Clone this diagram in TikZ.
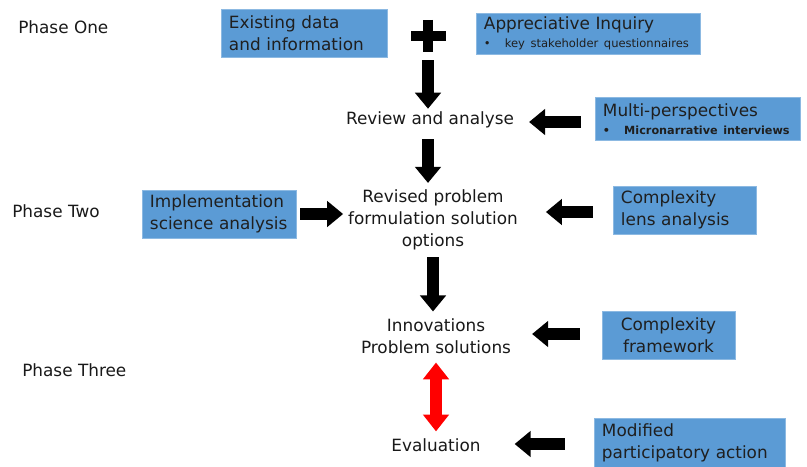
\documentclass[tikz,border=0pt]{standalone}
\usepackage{fontspec}
\setmainfont{DejaVu Sans}
\usetikzlibrary{arrows.meta}
\definecolor{cajaazul}{HTML}{5B9BD5}
\newcommand{\balafont}{\fontsize{8.2}{9.5}\selectfont}

\begin{document}
\begin{tikzpicture}[x=0.025cm, y=-0.025cm,
  caja/.style={fill=cajaazul, draw=cajaazul!70!white, line width=0.5pt, align=left, inner xsep=0.2cm, inner ysep=0pt, minimum height=1.2cm, font=\fontsize{12}{15.5}\selectfont, text=black!88},
  paso/.style={align=center, inner sep=2pt, font=\fontsize{12}{15.5}\selectfont, text=black!90},
  fase/.style={anchor=west, inner sep=0pt, font=\fontsize{12}{15}\selectfont, text=black!90},
  flecha/.style={line width=2.8mm, -{Triangle[length=4mm, width=6.3mm]}},
  doble/.style={line width=2.9mm, red, {Triangle[length=4.2mm, width=6.3mm]}-{Triangle[length=4.2mm, width=6.3mm]}}]
\useasboundingbox (0,0) rectangle (807,466);
% phases
\node[fase] (phaseone) at (18,27) {Phase One};
\node[fase] (phasetwo) at (12,211) {Phase Two};
\node[fase] (phasethree) at (22,370) {Phase Three};
% inputs
\node[caja, text width=3.75cm] (existing) at (304,33) {Existing data\\and information};
\coordinate (plus) at (428,36);
\draw[line width=2.4mm] (plus) +(-17,0) -- +(18,0) (plus) +(0,-16) -- +(0,16);
\node[caja, text width=5.2cm, minimum height=1.025cm] (inquiry) at (588,33.5) {Appreciative Inquiry\\[-3pt]{\balafont\textbullet\hspace{10pt}key stakeholder questionnaires}};
% main column
\node[paso] (review) at (430,120) {Review and analyse};
\node[caja, text width=4.725cm, minimum height=1.075cm] (multi) at (697.5,119) {Multi-perspectives\\[-3pt]\mbox{\fontsize{8}{9.5}\selectfont\bfseries\textbullet\hspace{10pt}Micronarrative interviews}};
\node[paso] (revised) at (433,220) {Revised problem\\formulation solution\\options};
\node[caja, text width=3.45cm] (impl) at (219,214) {Implementation\\science analysis};
\node[caja, text width=3.175cm] (lens) at (684.5,210) {Complexity\\lens analysis};
\node[paso] (innov) at (436,336) {Innovations\\Problem solutions};
\node[caja, align=center, minimum width=3.325cm] (framework) at (668.5,335) {Complexity\\framework};
\node[paso] (evaluation) at (436,445) {Evaluation};
\node[caja, text width=4.375cm, minimum height=1.25cm] (modified) at (689.5,443) {Modified\\participatory action};
% arrows
\draw[flecha, shorten <=6mm] (plus) -- (review.north -| plus);
\draw[flecha, shorten <=2mm, shorten >=1mm] (review.south -| plus) -- (revised.north -| plus);
\draw[flecha, shorten <=1mm, shorten >=1mm] (revised.south) -- (revised.south |- innov.north);
\draw[doble, shorten <=1.5mm, shorten >=1mm] (evaluation.north |- innov.south) -- (evaluation.north);
\draw[flecha, shorten <=1mm, shorten >=0.5mm] (impl.east) -- (impl.east -| revised.west);
\draw[flecha, shorten <=3.5mm, shorten >=3mm] (multi.west |- 0,122) -- (review.east |- 0,122);
\draw[flecha, shorten <=5mm, shorten >=6.25mm] (lens.west |- 0,212) -- (revised.east |- 0,212);
\draw[flecha, shorten <=5.5mm, shorten >=4.5mm] (framework.west |- 0,334) -- (innov.east |- 0,334);
\draw[flecha, shorten <=7.25mm, shorten >=7.75mm] (modified.west |- 0,444) -- (evaluation.east |- 0,444);
\end{tikzpicture}
\end{document}
